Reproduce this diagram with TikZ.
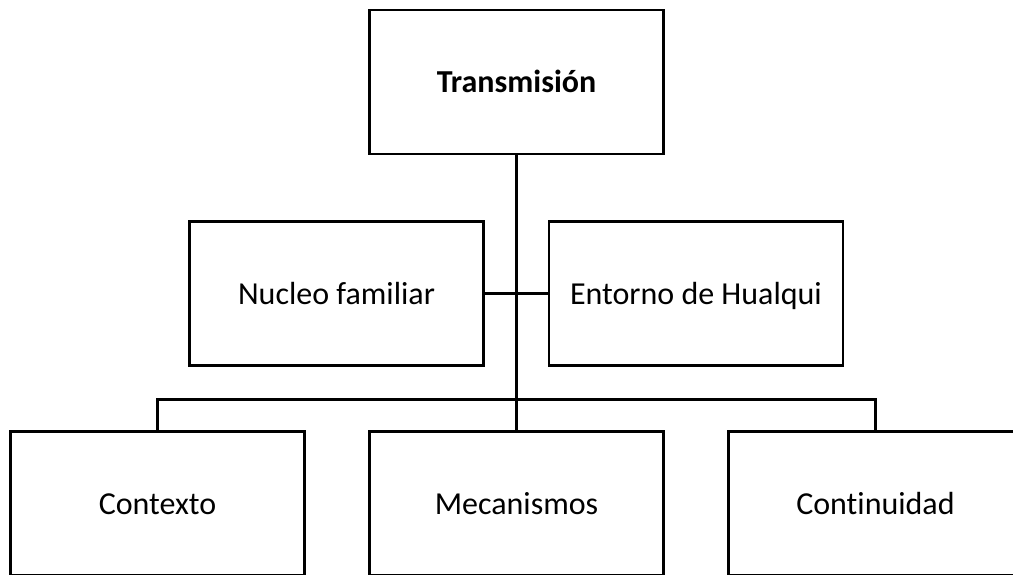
\documentclass[tikz,border=0pt]{standalone}
\usepackage{fontspec}
\setmainfont{Carlito}[Ligatures=NoCommon]
\usepackage{tikz}

\begin{document}
\begin{tikzpicture}[x=1pt,y=-1pt,line width=2.4pt,
                    main node/.style={rectangle,draw,line width=2.4pt,minimum width=294pt,
                                      minimum height=144pt,inner sep=0pt,text height=28pt,
                                      text depth=6pt,font=\fontsize{32}{38}\selectfont}]
  \useasboundingbox (0,0) rectangle (1013,575);
  \clip (0,0) rectangle (1013,575);
  \node[main node] (tr) at (516.5,82) {\textbf{Transmisión}};
  \node[main node] (nf) at (336.5,293.5) {Nucleo familiar};
  \node[main node] (eh) at (696,293.5) {Entorno de Hualqui};
  \node[main node] (ctx) at (157.5,503.5) {Contexto};
  \node[main node] (mec) at (516.5,503.5) {Mecanismos};
  \node[main node] (cont) at (875.5,503.5) {Continuidad};

  \draw (tr.south) -- (mec.north);
  \draw (nf.east) -- (eh.west);
  \draw (ctx.north) -- ++(0,-31) -| (cont.north);
\end{tikzpicture}
\end{document}
